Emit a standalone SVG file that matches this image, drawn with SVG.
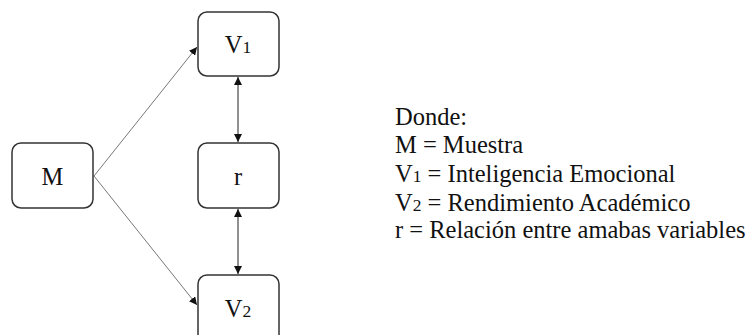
<svg xmlns="http://www.w3.org/2000/svg" width="753" height="335" viewBox="0 0 753 335">
<style>
.box{fill:#fff;stroke:#333;stroke-width:1.5}
.t{font-family:"Liberation Serif","Times New Roman","DejaVu Serif",serif;font-size:24.5px;fill:#111}
.sub{font-size:17.5px}
.diag{stroke:#777;stroke-width:1;fill:none}
.vert{stroke:#222;stroke-width:1;fill:none}
</style>
<defs>
<marker id="ah" viewBox="0 0 10 10" refX="10" refY="5" markerWidth="8" markerHeight="8" markerUnits="userSpaceOnUse" orient="auto-start-reverse">
<path d="M0,0 L10,5 L0,10 Z" fill="#111"/>
</marker>
</defs>
<rect width="753" height="335" fill="#fff"/>
<g id="connectors">
<line class="diag" x1="94" y1="176" x2="197" y2="47" marker-end="url(#ah)"/>
<line class="diag" x1="94" y1="176" x2="197" y2="305" marker-end="url(#ah)"/>
<line class="vert" x1="238" y1="77" x2="238" y2="142" marker-start="url(#ah)" marker-end="url(#ah)"/>
<line class="vert" x1="238" y1="209" x2="238" y2="274" marker-start="url(#ah)" marker-end="url(#ah)"/>
</g>
<g id="node-M">
<rect class="box" x="12" y="143" width="81" height="65" rx="9"/>
<text class="t" x="52.5" y="185" text-anchor="middle">M</text>
</g>
<g id="node-V1">
<rect class="box" x="198" y="12" width="81" height="64" rx="9"/>
<text class="t" x="238" y="53" text-anchor="middle">V<tspan class="sub">1</tspan></text>
</g>
<g id="node-r">
<rect class="box" x="198" y="143" width="81" height="65" rx="9"/>
<text class="t" x="238" y="185" text-anchor="middle">r</text>
</g>
<g id="node-V2">
<rect class="box" x="198" y="275" width="81" height="70" rx="9"/>
<text class="t" x="238" y="317" text-anchor="middle">V<tspan class="sub">2</tspan></text>
</g>
<g id="legend">
<text class="t" x="395" y="125">Donde:</text>
<text class="t" x="395" y="153">M = Muestra</text>
<text class="t" x="395" y="182">V<tspan class="sub">1</tspan> = Inteligencia Emocional</text>
<text class="t" x="395" y="211">V<tspan class="sub">2</tspan> = Rendimiento Académico</text>
<text class="t" x="395" y="238">r = Relación entre amabas variables</text>
</g>
</svg>
